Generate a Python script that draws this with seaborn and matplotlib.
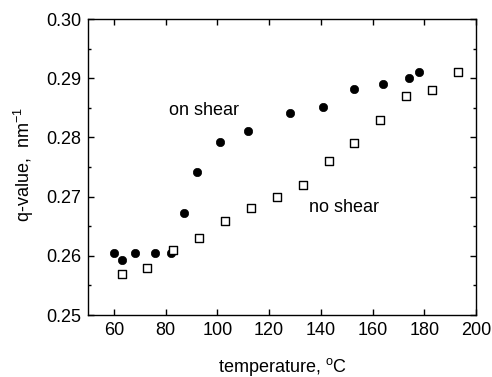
import matplotlib
matplotlib.use("Agg")
import matplotlib.pyplot as plt
import seaborn as sns
import pandas as pd
from matplotlib.ticker import MultipleLocator

sns.set_theme(style="ticks")
plt.rcParams['font.family'] = ['Liberation Sans', 'DejaVu Sans']
plt.rcParams['text.color'] = 'black'
plt.rcParams['axes.labelcolor'] = 'black'

shear_temp = [60, 63, 68, 76, 82, 87, 92, 101, 112, 128, 141, 153, 164, 174, 178]
shear_q = [0.2604, 0.2593, 0.2604, 0.2604, 0.2604, 0.2673, 0.2742, 0.2792,
           0.2811, 0.2841, 0.2851, 0.2881, 0.2891, 0.2901, 0.2911]
noshear_temp = [63, 73, 83, 93, 103, 113, 123, 133, 143, 153, 163, 173, 183, 193]
noshear_q = [0.2569, 0.2579, 0.2609, 0.2630, 0.2659, 0.2680, 0.2700, 0.2720,
             0.2760, 0.2790, 0.2830, 0.2870, 0.2880, 0.2910]

df_on = pd.DataFrame({"temperature": shear_temp, "q": shear_q})
df_no = pd.DataFrame({"temperature": noshear_temp, "q": noshear_q})

fig = plt.figure(figsize=(4.92, 3.77), dpi=100)
ax = fig.add_axes([88/492, 1-315/377, (476-88)/492, (315-19)/377])

sns.scatterplot(data=df_on, x="temperature", y="q", ax=ax, marker="o", s=36,
                color="black", edgecolor="black", linewidth=0.5, zorder=3)
sns.scatterplot(data=df_no, x="temperature", y="q", ax=ax, marker="s", s=26,
                facecolor="white", edgecolor="black", linewidth=1.0, zorder=3)

ax.set_xlim(50, 200)
ax.set_ylim(0.25, 0.30)
ax.xaxis.set_major_locator(MultipleLocator(20))
ax.xaxis.set_minor_locator(MultipleLocator(10))
ax.yaxis.set_major_locator(MultipleLocator(0.01))
ax.yaxis.set_minor_locator(MultipleLocator(0.005))
ax.yaxis.set_major_formatter(matplotlib.ticker.FormatStrFormatter('%.2f'))

ax.tick_params(axis='both', which='major', direction='in', length=4, width=1,
               labelsize=13, colors='black', pad=5)
ax.tick_params(axis='both', which='minor', direction='in', length=2.5, width=1,
               colors='black')
ax.tick_params(top=True, right=True, which='major')
ax.tick_params(right=True, which='minor')
ax.tick_params(axis='x', which='minor', bottom=False, top=False)

for sp in ax.spines.values():
    sp.set_visible(True)
    sp.set_linewidth(1.0)
    sp.set_color('black')

ax.set_xlabel("temperature, $\\mathregular{^oC}$", fontsize=13, labelpad=12)
ax.set_ylabel("q-value,  nm$\\mathregular{^{-1}}$", fontsize=13)
ax.yaxis.set_label_coords(-0.134, 0.51)

ax.text(94.8, 0.2846, "on shear", fontsize=13, ha="center", va="center")
ax.text(149, 0.2682, "no shear", fontsize=13, ha="center", va="center")

fig.savefig("out.png", dpi=100)
